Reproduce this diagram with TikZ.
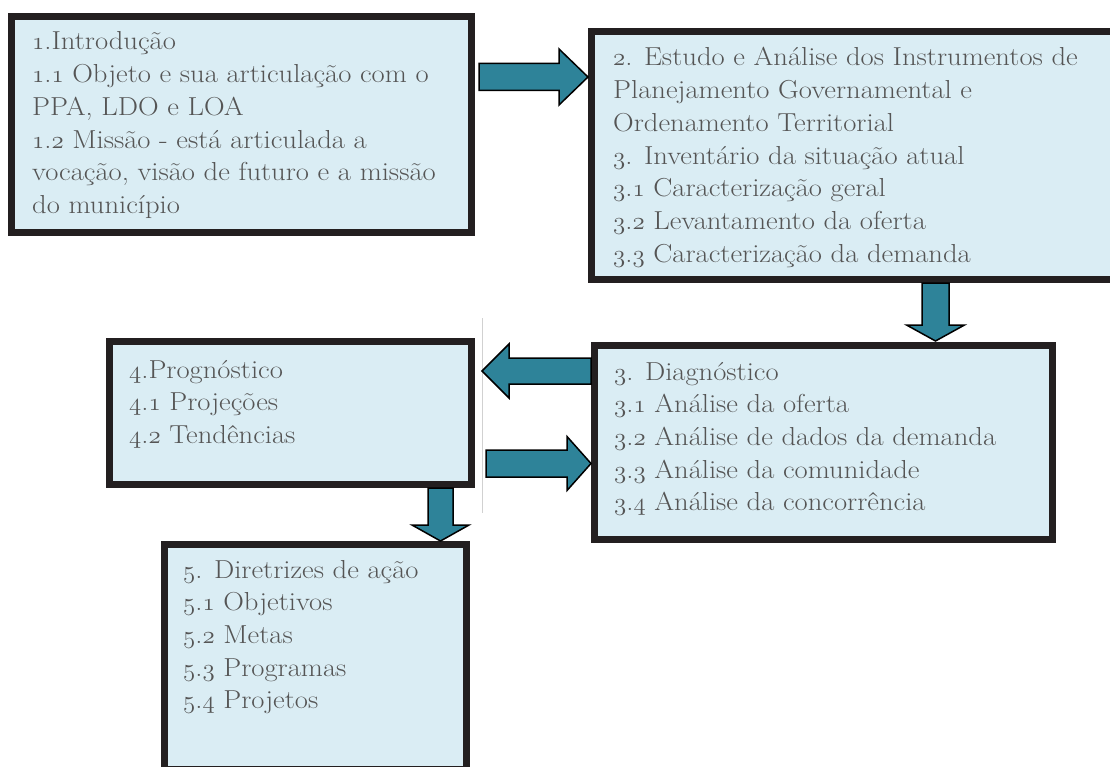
\documentclass[tikz,border=0pt]{standalone}
\usepackage{fontspec}
\setmainfont{Latin Modern Roman}[FakeStretch=1.1]
\usetikzlibrary{calc}
\definecolor{boxfill}{HTML}{DAEDF4}
\definecolor{arrowfill}{HTML}{2E8399}
\definecolor{boxline}{HTML}{231F20}
\definecolor{txt}{HTML}{555555}
\newcommand\osn[1]{{\usefont{OML}{cmm}{m}{it}#1}}
% fat block arrow from #1 (start) to #2 (tip): shaft half width #3, head half width #4, head length #5
\newcommand\fatH[5]{\draw[fat] let \p1=(#1), \p2=(#2), \n1={\x2-(#5)*sign(\x2-\x1)} in
  (\x1,\y2+#3) -- (\n1,\y2+#3) -- (\n1,\y2+#4) -- (\x2,\y2) -- (\n1,\y2-#4) -- (\n1,\y2-#3) -- (\x1,\y2-#3) -- cycle;}
\newcommand\fatV[5]{\draw[fat] let \p1=(#1), \p2=(#2), \n1={\y2-(#5)*sign(\y2-\y1)} in
  (\x2+#3,\y1) -- (\x2+#3,\n1) -- (\x2+#4,\n1) -- (\x2,\y2) -- (\x2-#4,\n1) -- (\x2-#3,\n1) -- (\x2-#3,\y1) -- cycle;}
\begin{document}
\begin{tikzpicture}[x=1pt,y=-1pt,
  box/.style={draw=boxline, line width=7pt, fill=boxfill, inner sep=0pt, outer sep=0pt, anchor=north west},
  lbl/.style={anchor=base west, inner sep=0pt, align=left, text=txt, font=\fontsize{26}{32.7}\selectfont},
  fat/.style={fill=arrowfill, draw=black, line width=1.5pt, line join=miter}]
\useasboundingbox (0,0) rectangle (1110,767);
\fill[white] (0,0) rectangle (1110,767);

% boxes
\node[box, minimum width=460pt, minimum height=216pt] (b1) at (11.5,16.5) {};
\node[box, minimum width=540pt, minimum height=248pt] (b2) at (591.5,31.5) {};
\node[box, minimum width=458pt, minimum height=194pt] (b3) at (594.5,345.5) {};
\node[box, minimum width=362pt, minimum height=143pt] (b4) at (109.5,341.5) {};
\node[box, minimum width=302pt, minimum height=225pt] (b5) at (164.5,544.5) {};

% texts (anchored at the baseline of the last line)
\node[lbl] (l1) at (32,213.5) {\osn{1}.Introdução\\
\osn{1}.\osn{1} Objeto e sua articulação com o\\
PPA, LDO e LOA\\
\osn{1}.\osn{2} Missão - está articulada a\\
vocação, visão de futuro e a missão\\
do município};
\node[lbl] (l2) at (613,262.2) {\osn{2}. Estudo e Análise dos Instrumentos de\\
Planejamento Governamental e\\
Ordenamento Territorial\\
\osn{3}. Inventário da situação atual\\
\osn{3}.\osn{1} Caracterização geral\\
\osn{3}.\osn{2} Levantamento da oferta\\
\osn{3}.\osn{3} Caracterização da demanda};
\node[lbl] (l3) at (614,510.8) {\osn{3}. Diagnóstico\\
\osn{3}.\osn{1} Análise da oferta\\
\osn{3}.\osn{2} Análise de dados da demanda\\
\osn{3}.\osn{3} Análise da comunidade\\
\osn{3}.\osn{4} Análise da concorrência};
\node[lbl] (l4) at (129,443.4) {\osn{4}.Prognóstico\\
\osn{4}.\osn{1} Projeções\\
\osn{4}.\osn{2} Tendências};
\node[lbl] (l5) at (183,708.8) {\osn{5}. Diretrizes de ação\\
\osn{5}.\osn{1} Objetivos\\
\osn{5}.\osn{2} Metas\\
\osn{5}.\osn{3} Programas\\
\osn{5}.\osn{4} Projetos};

% thin grey rule
\coordinate (g1) at (482,318);
\coordinate (g2) at (482,513);
\draw[black!18, line width=1pt] (g1) -- (g2);

% arrow end points
\coordinate (s12) at ($(b1.north east)+(7.5,60.5)$);
\coordinate (t12) at ($(b2.north west)+(-3.5,45.5)$);
\coordinate (s23) at ($(b2.south west)+(344,3.5)$);
\coordinate (t23) at ($(b3.north west)+(341,-4.5)$);
\coordinate (s34) at ($(b3.north west)+(-3.5,25.5)$);
\coordinate (t34) at ($(b4.north east)+(10.5,29.5)$);
\coordinate (s43) at ($(b4.north east)+(14.5,122)$);
\coordinate (t43) at ($(b3.north west)+(-3.5,118)$);
\coordinate (s45) at ($(b4.south west)+(331,3.5)$);
\coordinate (t45) at ($(b5.north west)+(276,-3.5)$);

% block arrows
\fatH{s12}{t12}{13.5pt}{28pt}{29pt}
\fatV{s23}{t23}{13.5pt}{29pt}{16pt}
\fatH{s34}{t34}{13pt}{27pt}{27pt}
\fatH{s43}{t43}{13.5pt}{27pt}{24pt}
\fatV{s45}{t45}{12.5pt}{28.5pt}{16pt}
\end{tikzpicture}
\end{document}
